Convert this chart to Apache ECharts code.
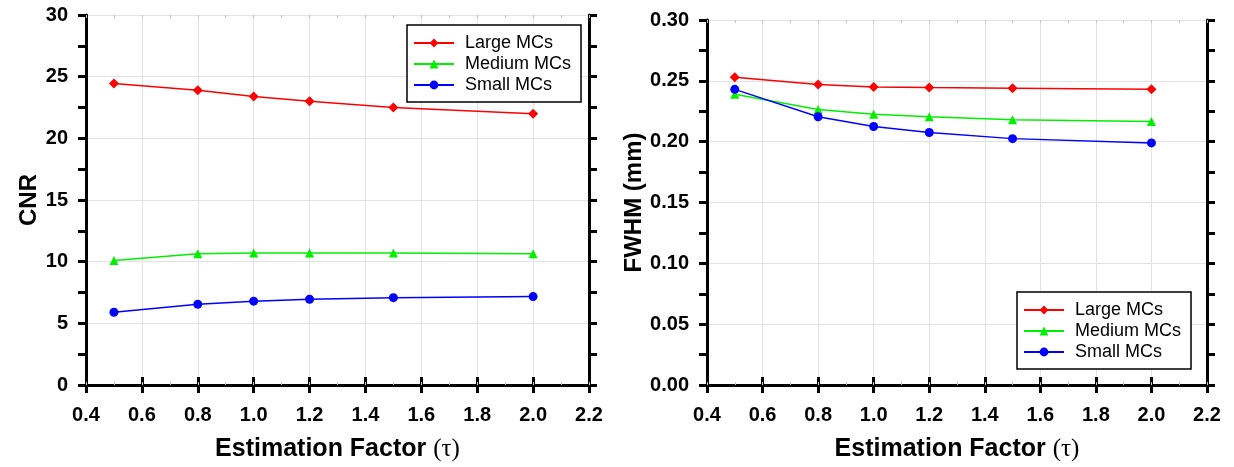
<!DOCTYPE html>
<html><head><meta charset="utf-8">
<script src="https://cdn.jsdelivr.net/npm/echarts@6/dist/echarts.min.js"></script>
<style>html,body{margin:0;padding:0;background:#fff}#c{width:1234px;height:467px}</style>
</head><body><div id="c"></div>
<script>
const tau = [0.5, 0.8, 1.0, 1.2, 1.5, 2.0];
const seriesNames = ['Large MCs', 'Medium MCs', 'Small MCs'];
const cnrLarge = [24.45, 23.9, 23.4, 23.0, 22.5, 22.0];
const cnrMedium = [10.1, 10.65, 10.7, 10.7, 10.7, 10.65];
const cnrSmall = [5.9, 6.55, 6.8, 6.95, 7.08, 7.17];
const fwhmLarge = [0.253, 0.247, 0.245, 0.2445, 0.244, 0.243];
const fwhmMedium = [0.239, 0.2265, 0.2225, 0.2205, 0.218, 0.2165];
const fwhmSmall = [0.243, 0.2205, 0.2125, 0.2075, 0.2025, 0.199];
const xTitle = 'Estimation Factor ';
const yTitleLeft = 'CNR';
const yTitleRight = 'FWHM (mm)';

const colors = ['#ff0000', '#00f000', '#0000ff'];
const symbols = ['diamond', 'triangle', 'circle'];
const symbolSizes = [10, 9, 9];
const FONT = 'Liberation Sans, Arial, sans-serif';

function pair(xs, ys) { return xs.map((x, i) => [x, ys[i]]); }

const axisLine = { show: true, lineStyle: { color: '#000', width: 3 } };
const tickStyle = { color: '#000', width: 3 };
const labelStyle = { color: '#000', fontFamily: FONT, fontWeight: 'bold', fontSize: 20 };
const gridLine = { show: true, lineStyle: { color: '#e3e3e3', width: 1 } };

function xMain(grid, pos, labels) {
  return {
    type: 'value', gridIndex: grid, position: pos, min: 0.4, max: 2.2, interval: 0.2,
    axisLine: axisLine, axisTick: { show: true, length: 8, lineStyle: tickStyle },
    axisLabel: labels ? Object.assign({ margin: 20, formatter: v => v.toFixed(1) }, labelStyle) : { show: false },
    splitLine: labels ? gridLine : { show: false },
    name: labels ? xTitle + '{t|(τ)}' : '', nameLocation: 'middle', nameGap: 52,
    nameTextStyle: { color: '#000', fontFamily: FONT, fontWeight: 'bold', fontSize: 25,
      rich: { t: { fontFamily: 'Liberation Serif, serif', fontWeight: 'normal', fontSize: 25, color: '#000' } } }
  };
}
function xMinor(grid, pos) {
  return {
    type: 'value', gridIndex: grid, position: pos, min: 0.4, max: 2.2, interval: 0.1,
    axisLine: { show: false }, axisLabel: { show: false }, splitLine: { show: false },
    axisTick: { show: true, inside: true, length: 3, lineStyle: { color: '#c4c4c4', width: 1 } }
  };
}
function yMain(grid, pos, max, interval, digits, name, gap) {
  const labels = pos === 'left';
  return {
    type: 'value', gridIndex: grid, position: pos, min: 0, max: max, interval: interval,
    axisLine: axisLine, axisTick: { show: true, length: 8, lineStyle: tickStyle },
    minorTick: { show: true, splitNumber: 2, length: 8, lineStyle: tickStyle },
    axisLabel: labels ? Object.assign({ margin: 18, formatter: v => v.toFixed(digits) }, labelStyle) : { show: false },
    splitLine: labels ? gridLine : { show: false },
    name: labels ? name : '', nameLocation: 'middle', nameGap: gap,
    nameTextStyle: { color: '#000', fontFamily: FONT, fontWeight: 'bold', fontSize: 24 }
  };
}
function makeSeries(xi, yi, arrs) {
  return arrs.map((a, k) => ({
    type: 'line', name: seriesNames[k], xAxisIndex: xi, yAxisIndex: yi,
    data: pair(tau, a), symbol: symbols[k], symbolSize: symbolSizes[k],
    itemStyle: { color: colors[k] }, lineStyle: { color: colors[k], width: 1.5 },
    showAllSymbol: true, z: 5
  }));
}
function legend(left, top) {
  return {
    left: left, top: top, orient: 'vertical', data: seriesNames,
    backgroundColor: '#fff', borderColor: '#000', borderWidth: 1.5,
    padding: [8, 10, 7, 6], itemWidth: 40, itemHeight: 11, itemGap: 1,
    textStyle: { color: '#000', fontFamily: FONT, fontSize: 18, lineHeight: 20, padding: [0, 0, 0, 6] }
  };
}

const option = {
  animation: false,
  backgroundColor: '#fff',
  grid: [
    { left: 86, width: 503, top: 15, height: 373 },
    { left: 707, width: 500, top: 20, height: 368 }
  ],
  xAxis: [
    xMain(0, 'bottom', true), xMain(0, 'top', false),
    xMain(1, 'bottom', true), xMain(1, 'top', false),
    xMinor(0, 'bottom'), xMinor(0, 'top'), xMinor(1, 'bottom'), xMinor(1, 'top')
  ],
  yAxis: [
    yMain(0, 'left', 30, 5, 0, yTitleLeft, 43), yMain(0, 'right', 30, 5, 0, '', 0),
    yMain(1, 'left', 0.3, 0.05, 2, yTitleRight, 54), yMain(1, 'right', 0.3, 0.05, 2, '', 0)
  ],
  legend: [legend(407, 25), legend(1017, 292)],
  series: [].concat(
    makeSeries(0, 0, [cnrLarge, cnrMedium, cnrSmall]),
    makeSeries(2, 2, [fwhmLarge, fwhmMedium, fwhmSmall])
  )
};
const chart = echarts.init(document.getElementById('c'), null, { renderer: 'canvas' });
chart.setOption(option);
</script></body></html>
